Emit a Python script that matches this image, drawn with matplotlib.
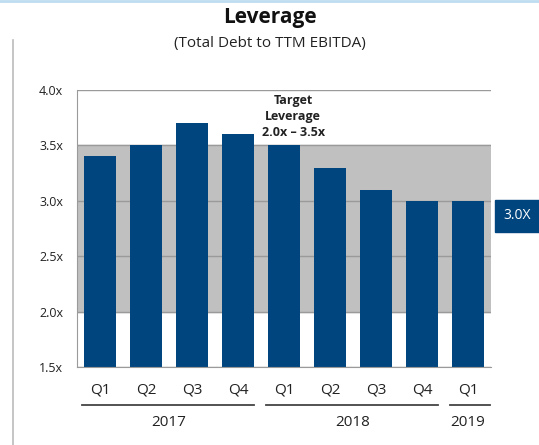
import matplotlib.pyplot as plt
import numpy as np

# Data
quarters = ["Q1", "Q2", "Q3", "Q4", "Q1", "Q2", "Q3", "Q4", "Q1"]
leverage = [3.4, 3.5, 3.7, 3.6, 3.5, 3.3, 3.1, 3.0, 3.0]
years = ["2017", "2018", "2019"]
year_spans = [(0, 3), (4, 7), (8, 8)]  # first and last quarter index per year
target_low, target_high = 2.0, 3.5
yticks = [1.5, 2.0, 2.5, 3.0, 3.5, 4.0]
current_label = "3.0X"

BAR_COLOR = "#00457E"
BAND_COLOR = "#C0C0C0"
GRID_COLOR = "#9A9A9A"
TEXT_COLOR = "#222222"

plt.rcParams["font.family"] = ["Open Sans", "DejaVu Sans"]

W, H = 539, 445
fig = plt.figure(figsize=(W / 100, H / 100), dpi=100)

# axes placed in pixel terms of the reference
left, right, top, bottom = 77, 491, 90, 367
ax = fig.add_axes([left / W, 1 - bottom / H, (right - left) / W, (bottom - top) / H])

x = np.arange(len(quarters))
ax.set_xlim(-0.5, len(quarters) - 0.5)
ax.set_ylim(1.5, 4.0)

# target band
ax.axhspan(target_low, target_high, color=BAND_COLOR, zorder=0)
for y in yticks:
    ax.axhline(y, color=GRID_COLOR, linewidth=1.0, zorder=1)

ax.bar(x, leverage, width=0.69, color=BAR_COLOR, zorder=2)

ax.set_yticks(yticks)
ax.set_yticklabels([f"{v:.1f}x" for v in yticks], fontsize=9, color=TEXT_COLOR)
ax.tick_params(axis="y", length=0, pad=10)
ax.set_xticks(x)
ax.set_xticklabels(quarters, fontsize=11, color=TEXT_COLOR)
ax.tick_params(axis="x", length=0, pad=11)

for s in ["top", "right"]:
    ax.spines[s].set_visible(False)
ax.spines["left"].set_color(GRID_COLOR)
ax.spines["bottom"].set_color(GRID_COLOR)

# target annotation
ax.text(4.2, 3.765, "Target\nLeverage\n2.0x \u2013 3.5x", ha="center", va="center",
        fontsize=9, fontweight="bold", color=TEXT_COLOR, linespacing=1.3, zorder=3)

# year groups below the axis
for yr, (a, b) in zip(years, year_spans):
    ax.plot([a - 0.39, b + (0.48 if a == b else 0.35)], [1.157, 1.157], color="#444444",
            linewidth=1.3, clip_on=False)
    ax.text((a + b) / 2, 1.0, yr, ha="center", va="center", fontsize=11,
            color=TEXT_COLOR, clip_on=False)

# current value box on the right
fig.text(517 / W, 1 - 216 / H, current_label, ha="center", va="center", fontsize=10,
         color="white",
         bbox=dict(boxstyle="square,pad=0.6", facecolor=BAR_COLOR, edgecolor=BAR_COLOR))

# titles
fig.text(0.5, 1 - 17 / H, "Leverage", ha="center", va="center", fontsize=15,
         fontweight="bold", color="#111111")
fig.text(0.5, 1 - 44 / H, "(Total Debt to TTM EBITDA)", ha="center", va="center",
         fontsize=11, color=TEXT_COLOR)

# decorative frame lines
fig.add_artist(plt.Line2D([13 / W, 13 / W], [0, 1 - 40 / H], color="#BBBBBB", linewidth=1.2))
fig.add_artist(plt.Line2D([0, 1], [1 - 1 / H, 1 - 1 / H], color="#BFDDF0", linewidth=2))

fig.savefig("out.png", dpi=100)
